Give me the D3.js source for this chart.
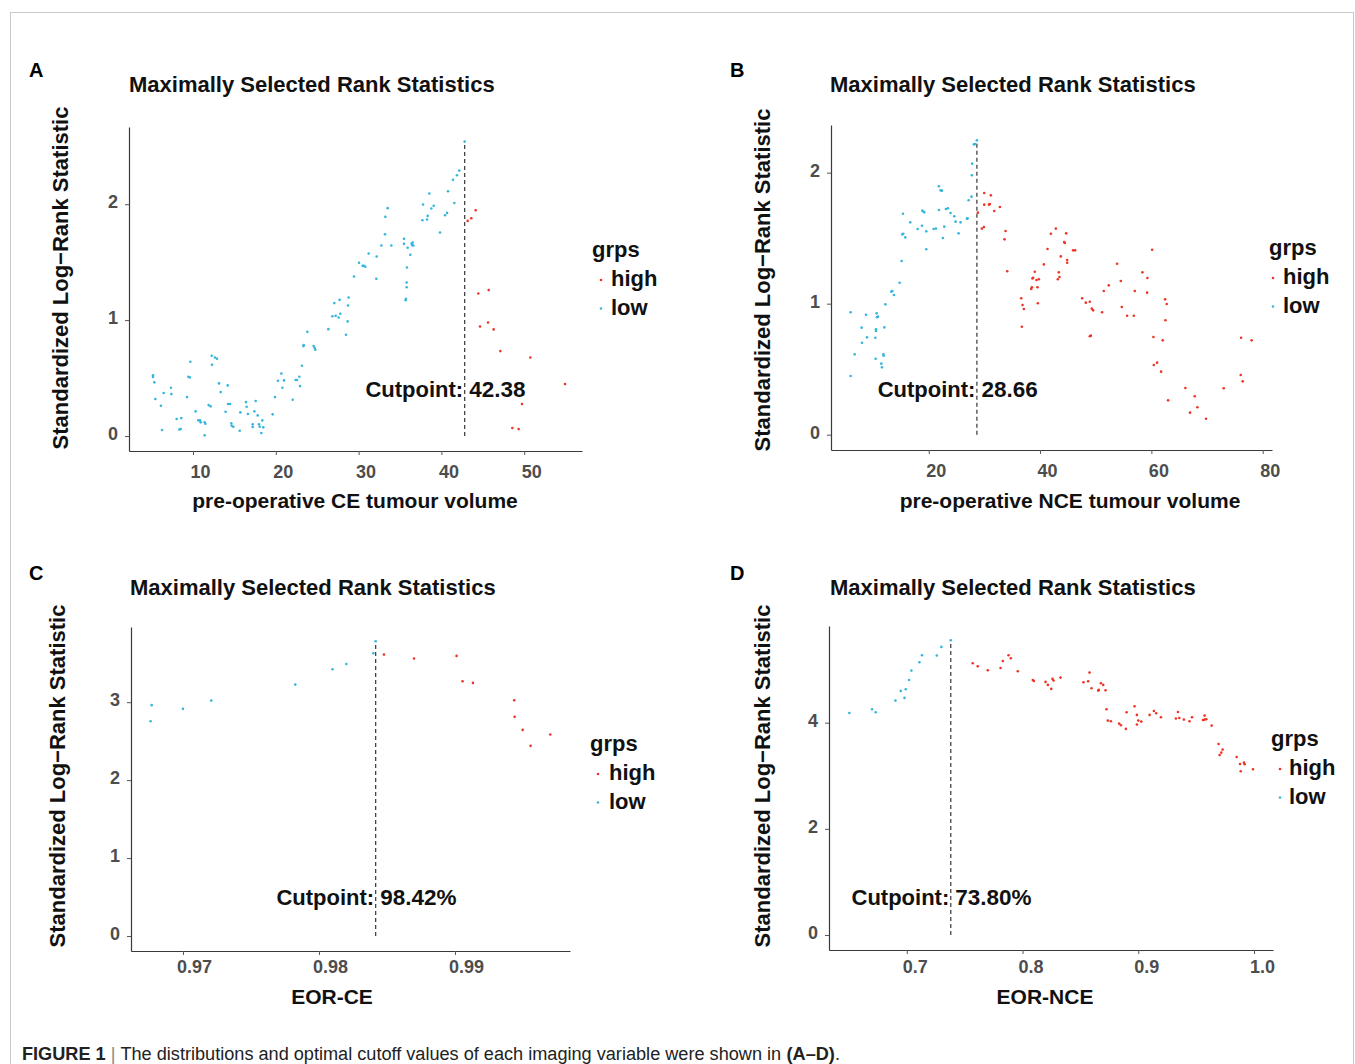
<!DOCTYPE html>
<html><head><meta charset="utf-8">
<script src="https://cdn.jsdelivr.net/npm/d3@7"></script>
<style>
body{margin:0;background:#fff}
svg text{font-family:"Liberation Sans",Arial,Helvetica,sans-serif}
</style>
</head><body>
<svg id="fig" width="1355" height="1064"></svg>
<script>
// ---------------- data ----------------
const aLowX = [5.17,5.17,5.33,5.45,6.13,6.26,6.46,7.34,7.38,8.03,8.35,8.51,8.59,9.28,9.44,9.60,9.68,10.32,10.64,10.85,10.93,11.41,11.49,11.41,11.89,12.13,12.25,12.30,12.66,12.90,13.14,13.34,13.94,14.19,14.23,14.47,14.63,14.67,14.87,15.64,15.72,16.40,16.48,16.64,17.21,17.21,17.41,17.57,17.81,17.97,18.05,18.25,18.37,18.49,19.62,19.90,20.26,20.67,20.79,20.99,22.04,22.40,22.56,22.84,22.92,23.16,23.33,23.37,23.81,24.57,24.69,24.77,26.35,26.83,27.07,27.23,27.59,27.71,27.79,28.48,28.68,28.72,28.80,29.44,30.05,30.49,30.65,30.81,31.22,32.14,32.18,32.75,33.19,33.23,33.51,33.95,35.48,35.48,35.68,35.72,35.80,35.80,35.84,35.92,36.25,36.41,36.45,36.53,36.61,37.70,37.78,38.26,38.34,38.54,38.78,39.07,39.83,40.44,40.68,40.80,41.40,41.56,41.88,42.16,42.81];
const aLowY = [0.523,0.509,0.463,0.319,0.261,0.052,0.371,0.417,0.362,0.147,0.057,0.060,0.155,0.336,0.511,0.506,0.641,0.213,0.135,0.135,0.118,0.118,0.106,0.006,0.267,0.256,0.693,0.615,0.678,0.667,0.454,0.379,0.210,0.437,0.276,0.276,0.109,0.089,0.080,0.046,0.204,0.293,0.253,0.190,0.101,0.078,0.213,0.302,0.178,0.101,0.080,0.026,0.135,0.075,0.187,0.336,0.477,0.540,0.417,0.480,0.313,0.483,0.483,0.511,0.431,0.606,0.776,0.784,0.899,0.776,0.759,0.744,0.922,1.034,1.147,1.037,1.023,1.175,1.055,0.874,0.989,1.126,1.195,1.376,1.494,1.468,1.468,1.460,1.575,1.356,1.549,1.644,1.741,1.891,1.966,1.644,1.701,1.658,1.172,1.184,1.325,1.284,1.454,1.624,1.563,1.661,1.647,1.670,1.644,1.862,1.997,1.868,1.899,2.092,1.963,1.986,1.756,1.905,1.925,2.112,2.210,2.011,2.250,2.290,2.540];
const aHighX = [43.17,43.61,44.14,44.46,44.66,45.63,45.71,46.31,47.12,48.57,49.33,49.73,50.74,54.93];
const aHighY = [1.856,1.879,1.948,1.230,0.945,0.980,1.259,0.920,0.733,0.069,0.060,0.276,0.678,0.448];

const bLowX = [5.97,5.97,6.69,7.95,8.01,8.73,8.90,10.40,10.46,10.52,10.52,10.64,10.70,10.88,11.48,11.60,11.84,11.90,12.02,12.20,13.27,13.45,13.75,14.77,15.13,15.25,15.37,15.43,15.79,16.68,18.00,18.78,18.84,19.08,19.20,19.56,19.56,20.87,21.29,21.83,21.83,22.13,22.37,22.55,22.79,23.09,23.45,23.92,24.58,24.82,25.36,25.72,26.86,26.98,27.16,27.69,27.75,27.81,28.11,28.35,28.65];
const bLowY = [0.934,0.448,0.613,0.817,0.702,0.916,0.743,0.740,0.580,0.804,0.791,0.926,0.896,0.901,0.542,0.514,0.613,0.603,0.819,0.995,1.092,1.097,1.066,1.160,1.326,1.529,1.687,1.534,1.506,1.621,1.570,1.595,1.710,1.702,1.697,1.552,1.415,1.570,1.573,1.896,1.715,1.865,1.863,1.501,1.588,1.723,1.728,1.692,1.667,1.626,1.537,1.621,1.649,1.651,1.789,1.817,1.980,2.069,2.216,2.219,2.247];
const bHighX = [28.83,29.55,29.91,29.97,29.97,30.81,30.99,31.16,31.76,32.78,33.62,33.80,34.10,36.61,36.73,36.85,37.09,38.41,38.53,38.64,38.76,39.06,39.36,39.54,39.60,39.78,40.68,41.34,41.94,42.83,43.19,43.37,43.49,43.73,44.33,44.45,44.69,44.87,44.87,45.94,46.30,47.56,48.22,48.94,48.94,49.12,49.30,49.53,51.15,51.45,52.35,53.84,54.50,54.68,55.64,56.84,57.02,58.39,59.23,59.29,60.13,60.37,60.43,61.02,61.74,62.04,62.46,62.52,62.76,63.00,66.11,66.95,67.79,68.27,69.82,73.00,76.11,76.05,76.41,78.02];
const bHighY = [1.695,1.573,1.585,1.845,1.756,1.756,1.761,1.827,1.707,1.738,1.491,1.555,1.247,1.041,0.824,0.990,0.959,1.112,1.125,1.193,1.198,1.244,1.181,1.125,1.003,1.186,1.300,1.417,1.534,1.573,1.186,1.239,1.204,1.361,1.471,1.463,1.537,1.333,1.313,1.407,1.407,1.041,1.008,1.015,0.751,0.756,0.962,0.949,0.934,1.097,1.140,1.305,1.173,0.975,0.908,0.908,1.097,1.239,1.084,1.196,1.412,0.746,0.532,0.550,0.481,0.720,1.033,0.873,0.997,0.262,0.356,0.168,0.293,0.209,0.122,0.354,0.740,0.455,0.407,0.720];

const cLowX = [0.96762,0.96770,0.97000,0.97208,0.97826,0.98100,0.98201,0.98400,0.98417];
const cLowY = [2.756,2.962,2.915,3.021,3.226,3.423,3.491,3.628,3.782];
const cHighX = [0.98478,0.98699,0.99012,0.99056,0.99132,0.99436,0.99439,0.99498,0.99556,0.99701];
const cHighY = [3.611,3.560,3.594,3.269,3.248,3.026,2.812,2.645,2.440,2.585];

const dLowX = [0.6504,0.6700,0.6732,0.6902,0.6948,0.6980,0.6991,0.7020,0.7040,0.7109,0.7132,0.7259,0.7299,0.7380];
const dLowY = [4.183,4.253,4.196,4.416,4.598,4.466,4.629,4.805,4.981,5.138,5.270,5.264,5.427,5.553];
const dHighX = [0.7570,0.7613,0.7700,0.7810,0.7830,0.7879,0.7899,0.7959,0.8089,0.8098,0.8199,0.8219,0.8248,0.8259,0.8268,0.8328,0.8527,0.8567,0.8579,0.8596,0.8654,0.8659,0.8677,0.8697,0.8717,0.8726,0.8737,0.8763,0.8835,0.8850,0.8893,0.8899,0.8968,0.8988,0.8988,0.9000,0.9026,0.9098,0.9135,0.9155,0.9196,0.9325,0.9343,0.9354,0.9394,0.9443,0.9464,0.9559,0.9573,0.9573,0.9588,0.9634,0.9694,0.9703,0.9717,0.9729,0.9850,0.9879,0.9885,0.9913,0.9919,0.9991];
const dHighY = [5.119,5.063,4.987,5.031,5.163,5.270,5.214,4.969,4.805,4.786,4.768,4.711,4.636,4.824,4.793,4.849,4.761,4.780,4.943,4.648,4.604,4.617,4.742,4.711,4.611,4.253,4.039,4.026,3.982,3.951,3.882,4.196,4.309,4.146,3.964,4.039,4.020,4.146,4.221,4.177,4.102,4.077,4.202,4.089,4.058,4.026,4.102,4.051,4.133,4.058,4.064,3.945,3.599,3.392,3.436,3.492,3.354,3.222,3.084,3.247,3.216,3.122];

const panelLetters = ["A","B","C","D"];
const xTitles = ["pre-operative CE tumour volume","pre-operative NCE tumour volume","EOR-CE","EOR-NCE"];
const cutLabels = ["42.38","28.66","98.42%","73.80%"];
const cutLineX = [42.81, 28.65, 0.98417, 0.7380];
const aXTicks = [10,20,30,40,50], bXTicks = [20,40,60,80], cXTicks = [0.97,0.98,0.99], dXTicks = [0.7,0.8,0.9,1.0];
const aXTickLabels = ["10","20","30","40","50"], bXTickLabels = ["20","40","60","80"], cXTickLabels = ["0.97","0.98","0.99"], dXTickLabels = ["0.7","0.8","0.9","1.0"];
const aYTicks = [0,1,2], bYTicks = [0,1,2], cYTicks = [0,1,2,3], dYTicks = [0,2,4];
const groupNames = ["high","low"];
const title = "Maximally Selected Rank Statistics";
const yTitle = "Standardized Log\u2212Rank Statistic";
const captionParts = [
  {t:"FIGURE 1", b:true, c:"#222"},
  {t:" | ", b:false, c:"#888"},
  {t:"The distributions and optimal cutoff values of each imaging variable were shown in ", b:false, c:"#222"},
  {t:"(A\u2013D)", b:true, c:"#222"},
  {t:".", b:false, c:"#222"}
];

const RED = "#ee3424", BLUE = "#35b6dc";

// ---------------- layout ----------------
const panels = [
 {low:[aLowX,aLowY], high:[aHighX,aHighY], xt:aXTicks, xl:aXTickLabels, yt:aYTicks,
  xDom:[2.27,56.98], xR:[129,582], yDom:[-0.129,2.666], yR:[451,127], tdx:7, tdy:27,
  letter:[29,77], title:[129,92], ylab:[68,278], xlab:[355,508], cutOff:39,
  leg:{x:592,y:257,ix:611,dx:601}},
 {low:[bLowX,bLowY], high:[bHighX,bHighY], xt:bXTicks, xl:bXTickLabels, yt:bYTicks,
  xDom:[2.44,81.67], xR:[831,1272], yDom:[-0.117,2.364], yR:[450,125], tdx:7, tdy:27,
  letter:[730,77], title:[830,92], ylab:[770,280], xlab:[1070,508], cutOff:38,
  leg:{x:1269,y:255,ix:1283,dx:1273}},
 {low:[cLowX,cLowY], high:[cHighX,cHighY], xt:cXTicks, xl:cXTickLabels, yt:cYTicks,
  xDom:[0.96618,0.99846], xR:[131,570], yDom:[-0.192,3.965], yR:[951,627], tdx:11, tdy:22,
  letter:[29,580], title:[130,595], ylab:[65,776], xlab:[332,1004], cutOff:31,
  leg:{x:590,y:751,ix:609,dx:598}},
 {low:[dLowX,dLowY], high:[dHighX,dHighY], xt:dXTicks, xl:dXTickLabels, yt:dYTicks,
  xDom:[0.6328,1.0164], xR:[829,1273], yDom:[-0.283,5.821], yR:[950,626], tdx:8, tdy:23,
  letter:[730,580], title:[830,595], ylab:[770,776], xlab:[1045,1004], cutOff:30,
  leg:{x:1271,y:746,ix:1289,dx:1280}}
];

const svg = d3.select("#fig");
svg.append("rect").attr("x",10.5).attr("y",12.5).attr("width",1343).attr("height",1120)
  .attr("fill","none").attr("stroke","#c9c9c9").attr("stroke-width",1);

panels.forEach((p,i)=>{
  const g = svg.append("g");
  const x = d3.scaleLinear().domain(p.xDom).range(p.xR);
  const y = d3.scaleLinear().domain(p.yDom).range(p.yR);

  // axes
  const xa = g.append("g").attr("transform",`translate(0,${p.yR[0]})`)
    .call(d3.axisBottom(x).tickValues(p.xt).tickFormat((d,k)=>p.xl[k]).tickSize(4).tickSizeOuter(0));
  const ya = g.append("g").attr("transform",`translate(${p.xR[0]},0)`)
    .call(d3.axisLeft(y).tickValues(p.yt).tickFormat(d3.format("d")).tickSize(4).tickSizeOuter(0));
  [xa,ya].forEach(a=>{
    a.select(".domain").attr("stroke","#3a3a3a").attr("stroke-width",1.2);
    a.selectAll(".tick line").attr("stroke","#555").attr("stroke-width",1);
    a.selectAll(".tick text").attr("fill","#4d4d4d").attr("font-size","18px")
      .attr("font-weight","bold").attr("font-family",'"Liberation Sans",Arial,sans-serif');
  });
  xa.selectAll(".tick text").attr("y",p.tdy).attr("dy",0).attr("dx",p.tdx);
  ya.selectAll(".tick text").attr("x",-11).attr("dy","0.3em").attr("transform","translate(0,-2)");

  // dashed cut line
  const maxY = d3.max(p.low[1].concat(p.high[1]));
  g.append("line").attr("x1",x(cutLineX[i])).attr("x2",x(cutLineX[i]))
    .attr("y1",y(0)).attr("y2",y(maxY))
    .attr("stroke","#444").attr("stroke-width",1.3).attr("stroke-dasharray","4,3");

  // points
  const pts = [];
  p.low[0].forEach((v,k)=>pts.push({x:v,y:p.low[1][k],c:BLUE}));
  p.high[0].forEach((v,k)=>pts.push({x:v,y:p.high[1][k],c:RED}));
  g.append("g").selectAll("circle").data(pts).join("circle")
    .attr("cx",d=>x(d.x)).attr("cy",d=>y(d.y)).attr("r",1.3).attr("fill",d=>d.c);

  // cutpoint label
  const cx = x(cutLineX[i]), cy = y(0) - p.cutOff;
  g.append("text").attr("x",cx-1.5).attr("y",cy).attr("text-anchor","end")
    .attr("font-size","22px").attr("font-weight","bold").attr("fill","#111").text("Cutpoint:");
  g.append("text").attr("x",cx+4.5).attr("y",cy).attr("text-anchor","start")
    .attr("font-size","22.5px").attr("font-weight","bold").attr("fill","#111").text(cutLabels[i]);

  // titles
  g.append("text").attr("x",p.letter[0]).attr("y",p.letter[1]).attr("font-size","20px")
    .attr("font-weight","bold").text(panelLetters[i]);
  g.append("text").attr("x",p.title[0]).attr("y",p.title[1]).attr("font-size","22px")
    .attr("font-weight","bold").attr("fill","#111").text(title);
  g.append("text").attr("transform",`translate(${p.ylab[0]},${p.ylab[1]}) rotate(-90)`)
    .attr("text-anchor","middle").attr("font-size","22px").attr("font-weight","bold")
    .attr("fill","#111").text(yTitle);
  g.append("text").attr("x",p.xlab[0]).attr("y",p.xlab[1]).attr("text-anchor","middle")
    .attr("font-size","21px").attr("font-weight","bold").attr("fill","#111").text(xTitles[i]);

  // legend
  const L = p.leg;
  g.append("text").attr("x",L.x).attr("y",L.y).attr("font-size","22px").attr("font-weight","bold")
    .attr("fill","#111").text("grps");
  groupNames.forEach((n,k)=>{
    const by = L.y + 29 + k*28.5;
    g.append("circle").attr("cx",L.dx).attr("cy",by-6).attr("r",1.3).attr("fill",k===0?RED:BLUE);
    g.append("text").attr("x",L.ix).attr("y",by).attr("font-size","22px").attr("font-weight","bold")
      .attr("fill","#111").text(n);
  });
});

// caption: pieces laid out one after another, then condensed horizontally to the reference width
const capG = svg.append("g");
let cur = 0;
captionParts.forEach(part=>{
  const t = capG.append("text").attr("x",cur).attr("y",0).attr("font-size","19px")
    .attr("font-weight",part.b?"bold":"normal").attr("fill",part.c)
    .attr("xml:space","preserve").style("white-space","pre").text(part.t);
  cur += t.node().getComputedTextLength();
});
const sx = 818 / cur;
capG.attr("transform",`translate(22,1060) scale(${sx},1)`);
</script>
</body></html>
